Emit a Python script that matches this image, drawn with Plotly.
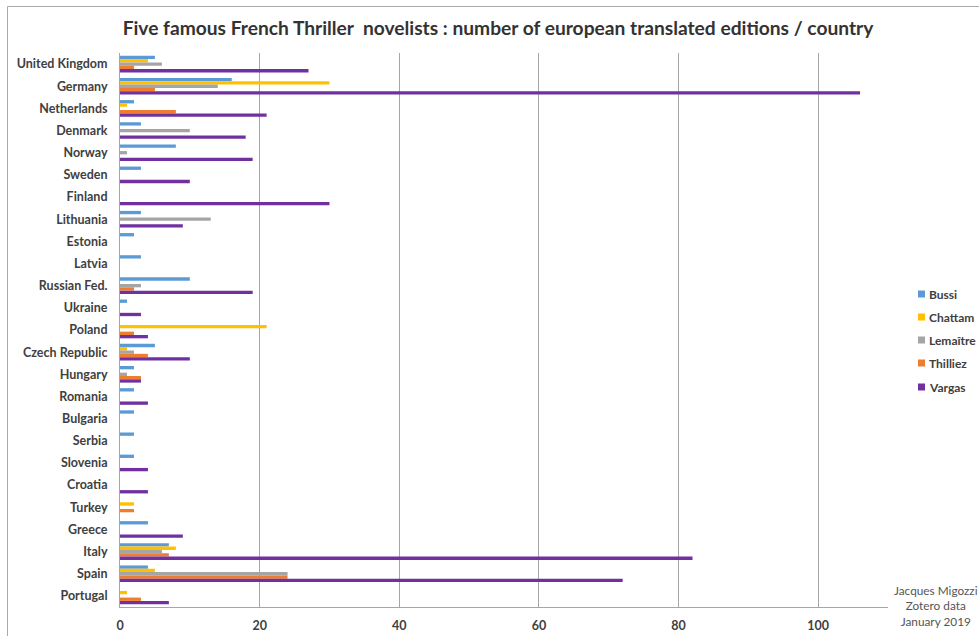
import plotly.graph_objects as go

countries = ["United Kingdom", "Germany", "Netherlands", "Denmark", "Norway", "Sweden",
             "Finland", "Lithuania", "Estonia", "Latvia", "Russian Fed.", "Ukraine",
             "Poland", "Czech Republic", "Hungary", "Romania", "Bulgaria", "Serbia",
             "Slovenia", "Croatia", "Turkey", "Greece", "Italy", "Spain", "Portugal"]

bussi    = [5, 16, 2, 3, 8, 3, 0, 3, 2, 3, 10, 1, 0, 5, 2, 2, 2, 2, 2, 0, 0, 4, 7, 4, 0]
chattam  = [4, 30, 1, 0, 0, 0, 0, 0, 0, 0, 0, 0, 21, 1, 0, 0, 0, 0, 0, 0, 2, 0, 8, 5, 1]
lemaitre = [6, 14, 0, 10, 1, 0, 0, 13, 0, 0, 3, 0, 0, 2, 1, 0, 0, 0, 0, 0, 0, 0, 6, 24, 0]
thilliez = [2, 5, 8, 0, 0, 0, 0, 0, 0, 0, 2, 0, 2, 4, 3, 0, 0, 0, 0, 0, 2, 0, 7, 24, 3]
vargas   = [27, 106, 21, 18, 19, 10, 30, 9, 0, 0, 19, 3, 4, 10, 3, 4, 0, 0, 4, 4, 0, 9, 82, 72, 7]

series_names = ["Bussi", "Chattam", "Lemaître", "Thilliez", "Vargas"]
series_values = [bussi, chattam, lemaitre, thilliez, vargas]
series_colors = ["#5B9BD5", "#FFC000", "#A5A5A5", "#ED7D31", "#7030A0"]

x_ticks = [0, 20, 40, 60, 80, 100]

fig = go.Figure()
for name, vals, col in zip(series_names, series_values, series_colors):
    fig.add_trace(go.Bar(y=countries, x=vals, name=name, orientation="h", showlegend=False,
                         marker=dict(color=col, line=dict(width=0))))

font_family = "Lato, 'Open Sans', sans-serif"

W, H = 979, 636
L, R, T, B = 120, 91, 53, 29
PW, PH = W - L - R, H - T - B


def px_x(x):
    return (x - L) / PW


def px_y(y):
    return (H - B - y) / PH


fig.update_layout(
    width=W, height=H,
    barmode="group", bargap=0.25, bargroupgap=0,
    paper_bgcolor="white", plot_bgcolor="white",
    margin=dict(l=L, r=R, t=T, b=B, pad=0),
    font=dict(family=font_family, color="#404040"),
    title=dict(text="Five famous French Thriller  novelists : number of european translated editions / country",
               x=498 / W, xanchor="center", y=1 - 28 / H, yanchor="middle",
               font=dict(size=19.2, weight="bold", color="#333333", family=font_family)),
    xaxis=dict(range=[0, 110], tickvals=x_ticks, showgrid=True, gridcolor="#A6A6A6", gridwidth=1,
               showline=True, linecolor="#A6A6A6", linewidth=1, zeroline=False,
               tickfont=dict(size=12.5, weight="bold", color="#404040"), ticks="",
               ticklabelstandoff=7, automargin=False),
    yaxis=dict(autorange="reversed", showline=True, linecolor="#A6A6A6", linewidth=1,
               tickfont=dict(size=12.5, weight="bold", color="#404040"), ticks="",
               ticklabelstandoff=9, automargin=False),
    showlegend=False,
)

# chart border (Excel-style chart area frame)
fig.add_shape(type="rect", xref="paper", yref="paper",
              x0=px_x(7.5), x1=2.0, y0=-1.0, y1=px_y(6.5),
              line=dict(color="#AAAAAA", width=1), fillcolor="rgba(0,0,0,0)", layer="below")

# legend: small square swatches + labels
legend_y = [294, 317, 340, 363, 387]
for name, col, ly in zip(series_names, series_colors, legend_y):
    fig.add_shape(type="rect", xref="paper", yref="paper",
                  x0=px_x(918), x1=px_x(925), y0=px_y(ly + 3.5), y1=px_y(ly - 3.5),
                  line=dict(width=0), fillcolor=col)
    fig.add_annotation(text=name, xref="paper", yref="paper", x=px_x(927), y=px_y(ly),
                       xanchor="left", yanchor="middle", showarrow=False,
                       font=dict(size=12, weight="bold", color="#404040", family=font_family))

fig.add_annotation(text="Jacques Migozzi<br>Zotero data<br>January 2019",
                   xref="paper", yref="paper", x=px_x(936), y=px_y(606),
                   xanchor="center", yanchor="middle",
                   showarrow=False, align="center",
                   font=dict(size=11.8, color="#555555", family=font_family))

fig.write_html("out.html", config={"displayModeBar": False},
               post_script="document.body.style.margin='0';document.body.style.overflow='hidden';")
